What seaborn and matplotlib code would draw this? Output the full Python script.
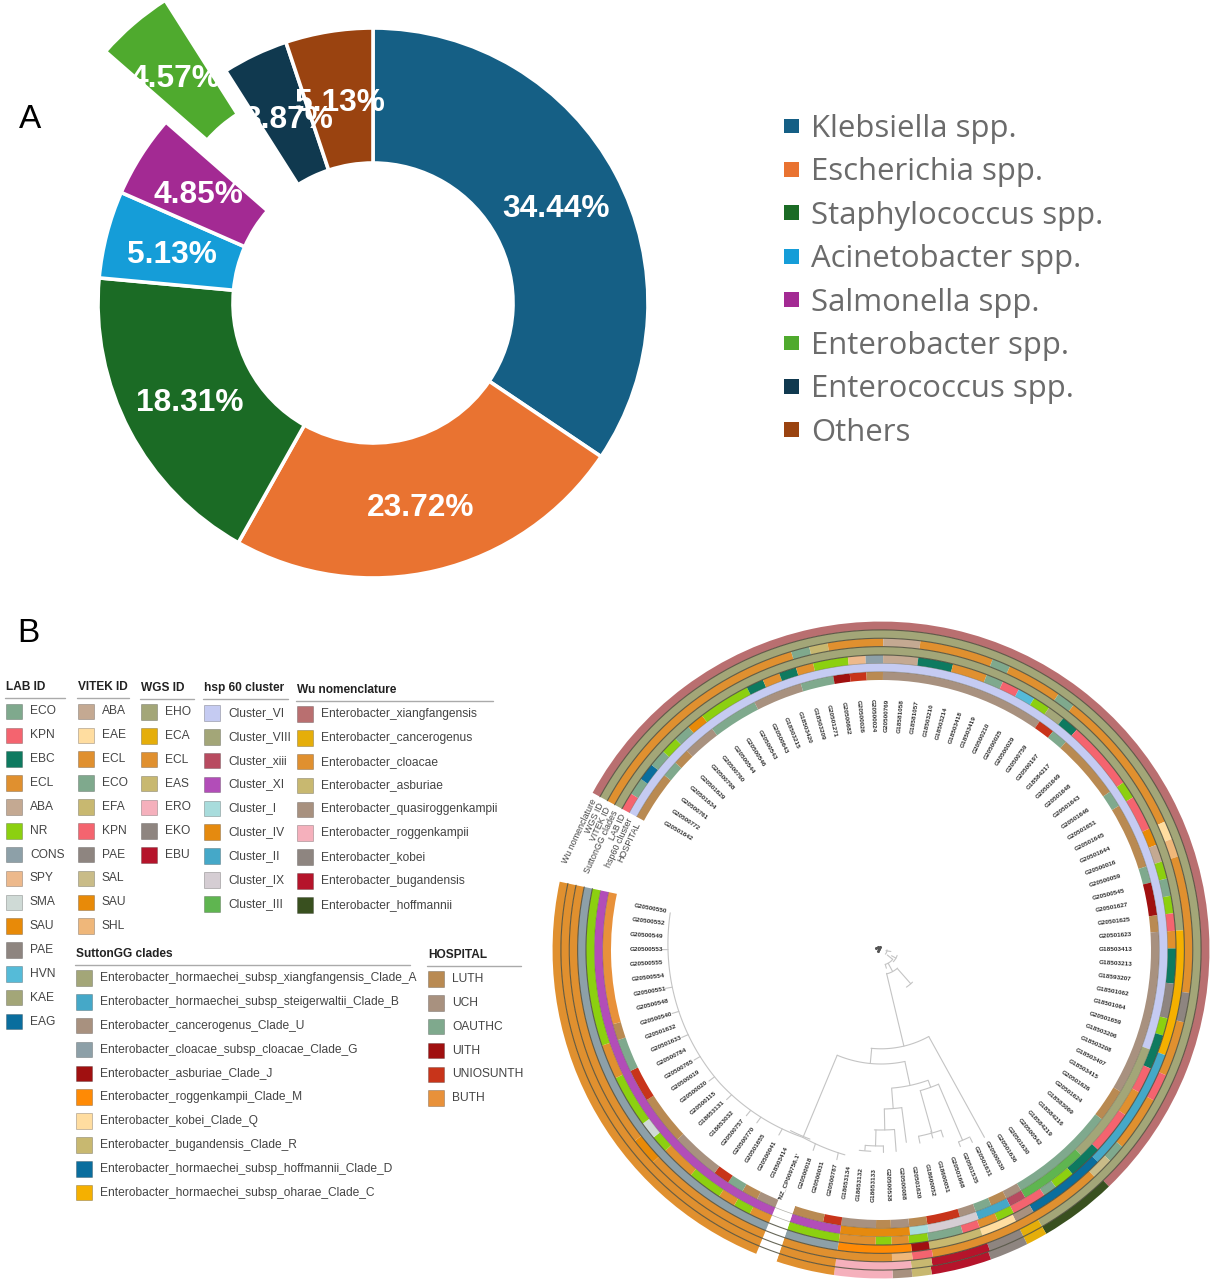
# -*- coding: utf-8 -*-
import numpy as np
import pandas as pd
import seaborn as sns
import matplotlib.pyplot as plt

W, H = 1213, 1280

# ---------------- panel A data
species = ['Klebsiella spp.', 'Escherichia spp.', 'Staphylococcus spp.', 'Acinetobacter spp.',
           'Salmonella spp.', 'Enterobacter spp.', 'Enterococcus spp.', 'Others']
share = [34.44, 23.72, 18.31, 5.13, 4.85, 4.57, 3.87, 5.13]
species_colors = ['#155F85', '#E97331', '#1B6B25', '#159DD8', '#A32A93', '#4FAA2E', '#10394F', '#9A4310']
share_xy = [(556, 209), (421, 508), (190, 403), (172, 255), (198, 195), (175, 79), (288, 120), (340, 103)]

# ---------------- panel B legends
lab_names = ['ECO', 'KPN', 'EBC', 'ECL', 'ABA', 'NR', 'CONS', 'SPY', 'SMA', 'SAU', 'PAE', 'HVN', 'KAE', 'EAG']
lab_colors = ['#7FA98D', '#F4646F', '#0E7A60', '#E0902F', '#C4A992', '#8CD010', '#8DA0A8', '#EDB98C',
              '#CFDAD6', '#E88A08', '#8E8580', '#55BBD8', '#A3A678', '#0A6E9E']
vitek_names = ['ABA', 'EAE', 'ECL', 'ECO', 'EFA', 'KPN', 'PAE', 'SAL', 'SAU', 'SHL']
vitek_colors = ['#C4A992', '#FFDDA0', '#E0902F', '#7FA98D', '#C8B870', '#F4646F', '#8E8580', '#C9BC88',
                '#E88A08', '#EFB77A']
wgs_names = ['EHO', 'ECA', 'ECL', 'EAS', 'ERO', 'EKO', 'EBU']
wgs_colors = ['#A3A678', '#E5AE0A', '#E0902F', '#C8B870', '#F5B0BC', '#8E8580', '#B5142B']
hsp_names = ['Cluster_VI', 'Cluster_VIII', 'Cluster_xiii', 'Cluster_XI', 'Cluster_I', 'Cluster_IV',
             'Cluster_II', 'Cluster_IX', 'Cluster_III']
hsp_colors = ['#C5CBF2', '#A3A678', '#B84B60', '#B24DB8', '#A8DCDC', '#E58A0F', '#45A8C8', '#D5CDD3', '#5FB550']
wu_names = ['Enterobacter_xiangfangensis', 'Enterobacter_cancerogenus', 'Enterobacter_cloacae',
            'Enterobacter_asburiae', 'Enterobacter_quasiroggenkampii', 'Enterobacter_roggenkampii',
            'Enterobacter_kobei', 'Enterobacter_bugandensis', 'Enterobacter_hoffmannii']
wu_colors = ['#B96F70', '#E5AE0A', '#E0902F', '#C8B870', '#A8917F', '#F5B0BC', '#8E8580', '#B5142B', '#39501F']
sutton_names = ['Enterobacter_hormaechei_subsp_xiangfangensis_Clade_A',
                'Enterobacter_hormaechei_subsp_steigerwaltii_Clade_B', 'Enterobacter_cancerogenus_Clade_U',
                'Enterobacter_cloacae_subsp_cloacae_Clade_G', 'Enterobacter_asburiae_Clade_J',
                'Enterobacter_roggenkampii_Clade_M', 'Enterobacter_kobei_Clade_Q',
                'Enterobacter_bugandensis_Clade_R', 'Enterobacter_hormaechei_subsp_hoffmannii_Clade_D',
                'Enterobacter_hormaechei_subsp_oharae_Clade_C']
sutton_colors = ['#A3A678', '#45A8C8', '#A8917F', '#8DA0A8', '#A01010', '#FF8A05', '#FFDDA0', '#C8B870',
                 '#0A6E9E', '#F5B000']
hospital_names = ['LUTH', 'UCH', 'OAUTHC', 'UITH', 'UNIOSUNTH', 'BUTH']
hospital_colors = ['#B98A52', '#A8917F', '#7FA98D', '#A01010', '#C8341A', '#E8913A']

# ---------------- rings: category per run, and where each run ends (leaf units, 100 = whole arc)
hospital_runs = ['LUTH', 'OAUTHC', 'LUTH', 'UCH', 'OAUTHC', 'UCH', 'OAUTHC', 'UITH', 'UNIOSUNTH', 'LUTH', 'UCH',
                 'UNIOSUNTH', 'OAUTHC', 'LUTH', 'OAUTHC', 'LUTH', 'OAUTHC', 'UITH', 'LUTH', 'UCH', 'LUTH', 'OAUTHC',
                 'UCH', 'LUTH', 'OAUTHC', 'UCH', 'UNIOSUNTH', 'LUTH', 'UCH', 'LUTH', 'UCH', 'UNIOSUNTH', 'LUTH', '',
                 'UCH', 'LUTH', 'OAUTHC', 'UNIOSUNTH', 'UCH', 'LUTH', 'UNIOSUNTH', 'OAUTHC', 'LUTH', 'BUTH']
hospital_ends = [3, 4, 5, 7, 10, 13, 15, 16, 17, 18, 28, 29, 30, 34, 35, 39, 40, 42, 43, 53, 55, 61.5, 62.5, 63.5,
                 64.5, 65.5, 67.5, 68.6, 69.7, 70.6, 72.7, 73.8, 75.7, 76.8, 78, 79, 80, 81, 84, 87, 89, 91, 92, 100]
hsp_runs = ['Cluster_VI', 'Cluster_VIII', 'Cluster_III', 'Cluster_xiii', 'Cluster_II', 'Cluster_IX', 'Cluster_I',
            'Cluster_IV', 'Cluster_XI', '', 'Cluster_XI']
hsp_ends = [50, 57.4, 61.5, 62.5, 64.5, 67.5, 68.6, 72.7, 75.7, 76.8, 100]
lab_runs = ['KPN', 'ECO', 'EAG', 'ECO', 'NR', 'ECO', 'SAU', 'NR', 'EBC', 'ECL', 'EBC', 'ECL', 'NR', 'SPY', 'CONS',
            'ABA', 'EBC', 'ECL', 'ECO', 'KPN', 'HVN', 'NR', 'KAE', 'EBC', 'KPN', 'NR', 'KPN', 'SAU', 'ABA', 'NR',
            'ECO', 'NR', 'KPN', 'ECL', 'EBC', 'PAE', 'NR', 'EBC', 'KPN', 'ECL', 'KPN', 'EBC', 'NR', 'ECO', 'KPN',
            'NR', 'ECL', 'KPN', 'ECO', 'NR', 'ECL', 'NR', 'ECL', 'NR', '', 'ECL', 'NR', 'ECL', 'NR', 'ECL', 'NR',
            'SMA', 'NR', 'ECL', 'NR']
lab_ends = [1, 2, 3, 4, 5, 6, 7, 10, 11, 12, 13, 14, 16, 17, 18, 20, 22, 24, 25, 26, 27, 28, 29, 30, 34, 35, 37,
            38, 39, 40, 41, 42, 43, 44, 46, 48, 49, 51, 52.5, 54, 56.5, 58.5, 59.7, 60.5, 62.5, 63.5, 64.6, 65.6,
            67.6, 68.7, 69.7, 70.6, 72.7, 75.7, 76.8, 78, 79, 80, 82, 84, 85, 86, 89, 91, 100]
sutton_runs = ['A', 'C', 'B', 'D', 'U', 'Q', 'R', 'J', 'M', 'G', '', 'G']
sutton_ends = [43, 50, 57, 61.5, 62.6, 64.6, 67.6, 68.6, 72.7, 75.7, 76.8, 100]
vitek_runs = ['ECL', 'ECO', 'EFA', 'ECL', 'ABA', 'ECL', 'ECO', 'ECL', 'ECO', 'ECL', 'EAE', 'SHL', 'ECL', 'PAE',
              'ECL', 'KPN', 'ECL', 'ECO', 'SAL', 'ECL', 'KPN', 'SHL', 'ECL', '', 'ECL', 'SAU', 'ECL']
vitek_ends = [13, 14, 15, 18, 20, 24, 25, 28, 29, 37, 38, 39, 46.4, 48, 51, 52.5, 55.5, 56.5, 57.7, 67.5, 68.6,
              69.7, 75.7, 76.8, 84, 85.5, 100]
wgs_runs = ['EHO', 'ECA', 'EKO', 'EBU', 'EAS', 'ERO', 'ECL', '', 'ECL']
wgs_ends = [61.5, 62.6, 64.5, 67.6, 68.7, 72.7, 75.7, 76.8, 100]
wu_runs = ['Enterobacter_xiangfangensis', 'Enterobacter_hoffmannii', 'Enterobacter_cancerogenus', 'Enterobacter_kobei',
           'Enterobacter_bugandensis', 'Enterobacter_asburiae', 'Enterobacter_quasiroggenkampii',
           'Enterobacter_roggenkampii', 'Enterobacter_cloacae', '', 'Enterobacter_cloacae']
wu_ends = [57.5, 61.5, 62.6, 64.6, 67.7, 68.7, 69.7, 72.7, 75.7, 76.8, 100]

leaf_names = ['G20501642', 'G20500772', 'G20500761', 'G20501634', 'G20501629', 'G20500798', 'G20500760', 'G20500544',
              'G20500546', 'G20500543', 'G20500643', 'G18503215', 'G18503420', 'G18503209', 'G20501271', 'G20500682',
              'G20500026', 'G20500024', 'G20500769', 'G18581058', 'G18581057', 'G18503210', 'G18503214', 'G18503418',
              'G18503419', 'G20500210', 'G20500025', 'G20500029', 'G20500759', 'G20500197', 'G18584217', 'G20501649',
              'G20501648', 'G20501643', 'G20501646', 'G20501651', 'G20501645', 'G20501644', 'G20500016', 'G20500059',
              'G20500545', 'G20501627', 'G20501625', 'G20501623', 'G18503413', 'G18503213', 'G18593207', 'G18501062',
              'G18501064', 'G20501659', 'G18503206', 'G18503208', 'G18503407', 'G18503415', 'G20501626', 'G20501624',
              'G18583069', 'G18584216', 'G18584219', 'G20500542', 'G20501630', 'G20501636', 'G20500030', 'G20501631',
              'G20501535', 'G20501668', 'G18600051', 'G18600052', 'G20501620', 'G20500088', 'G20500538', 'G18653133',
              'G18653132', 'G18653134', 'G20500787', 'G20500031', 'G20500018', "'NZ_CP009756.1'", 'G18503414',
              'G20500041', 'G20501655', 'G20500770', 'G20500757', 'G18653032', 'G18653131', 'G20500115', 'G20500020',
              'G20500019', 'G20500765', 'G20500784', 'G20501633', 'G20501632', 'G20500540', 'G20500548', 'G20500551',
              'G20500554', 'G20500555', 'G20500553', 'G20500549', 'G20500552', 'G20500550']

# tree: radial edges (angle, r from, r to) and arcs (r, angle from, angle to); angle in degrees from ring start
tree_radial = [(228, 24, 98.8), (212.5, 98.8, 214), (246.8, 98.8, 114), (264, 114, 203), (229.3, 114, 138),
               (221.5, 139, 146), (225.8, 146, 189), (218.2, 146, 207), (237, 139, 159), (233.9, 159, 194),
               (240.2, 159, 180), (237.1, 180, 202), (243, 180, 196), (240.7, 196, 202.5), (246, 196, 201),
               (230, 190, 197), (223, 190, 197), (226, 188, 195), (219.4, 207, 212), (216, 208, 213),
               (200, 25, 45), (213, 15, 24), (190, 8, 15), (225, 15, 19), (180, 12, 17), (160, 5, 10)]
tree_arcs = [(98.8, 212.5, 247.2), (114, 229.3, 264), (138.5, 221.5, 237), (146, 218.2, 225.8), (159, 233.9, 240.2),
             (180, 237.1, 243.5), (196, 240.7, 246), (201.5, 244.3, 247.6), (190, 223, 230), (207, 216, 219.4),
             (24.5, 199, 228), (45, 197, 207), (15, 190, 225), (6, 150, 195), (17, 170, 195), (202, 262, 268)]
tree_base_angle = [251.4, 264, 291.8, 321.4, 341.4]
tree_base_r = [208, 203, 209, 212, 214]
tree_stub_leaves = [74, 76, 79, 81, 82, 84, 86, 88, 90, 92, 94, 97]

# ---------------- layout
sns.set_theme(style='white')
plt.rcParams['font.family'] = ['Liberation Sans', 'DejaVu Sans']

fig = plt.figure(figsize=(W / 100, H / 100), dpi=100, facecolor='white')


def px_axes(cx, cy, half, **kw):
    return fig.add_axes([(cx - half) / W, (H - cy - half) / H, 2 * half / W, 2 * half / H], **kw)


# ---------------- donut
pie_r = 275
ax_pie = px_axes(373, 303, pie_r * 1.45)
pal = sns.color_palette(species_colors)
explode = [0, 0, 0, 0, 0, 0.338, 0, 0]
ax_pie.pie(share, radius=1, startangle=90, counterclock=False, colors=pal, explode=explode,
           normalize=True, wedgeprops=dict(width=1 - 140 / pie_r, edgecolor='white', linewidth=2.6))
ax_pie.set_xlim(-1.45, 1.45)
ax_pie.set_ylim(-1.45, 1.45)
ax_pie.set_aspect('equal')
ax_pie.set_facecolor('none')
ax_pie.axis('off')

# ---------------- circular tree
C_X, C_Y, R_MAX = 881, 950, 330
START = 151.4
ARC = 343.4
ax_tree = px_axes(C_X, C_Y, R_MAX, projection='polar')
ax_tree.set_facecolor('none')
ax_tree.set_theta_offset(np.radians(START))
ax_tree.set_theta_direction(-1)
ax_tree.set_ylim(0, R_MAX)

rings = [(hospital_runs, hospital_ends, dict(zip(hospital_names, hospital_colors))),
         (hsp_runs, hsp_ends, dict(zip(hsp_names, hsp_colors))),
         (lab_runs, lab_ends, dict(zip(lab_names, lab_colors))),
         (sutton_runs, sutton_ends, dict(zip('ABUGJMQRDC', sutton_colors))),
         (vitek_runs, vitek_ends, dict(zip(vitek_names, vitek_colors))),
         (wgs_runs, wgs_ends, dict(zip(wgs_names, wgs_colors))),
         (wu_runs, wu_ends, dict(zip(wu_names, wu_colors)))]
ring_names = ['HOSPITAL', 'hsp60 cluster', 'LAB ID', 'SuttonGG clades', 'VITEK ID', 'WGS ID', 'Wu nomenclature']
r_in, r_step = 270, 8.35
unit = np.radians(ARC / 100)

for i, (runs, ends, cmap) in enumerate(rings):
    ends = np.array(ends, dtype=float)
    starts = np.r_[0, ends[:-1]]
    cols = [cmap.get(c, 'white') for c in runs]
    ax_tree.bar((starts + ends) / 2 * unit, r_step, width=(ends - starts) * unit, bottom=r_in + i * r_step,
                color=cols, linewidth=0)
    ax_tree.text(np.radians(-0.9), r_in + (i + 0.5) * r_step, ring_names[i], rotation=65, ha='right',
                 va='center', rotation_mode='anchor', fontsize=6.4, color='#444444')

arc_t = np.radians(np.linspace(0, ARC, 400))
for i in range(1, 7):
    dark = i >= 3
    ax_tree.plot(arc_t, np.full(400, r_in + i * r_step), color='#4d4d3c', lw=0.8 if dark else 0.5,
                 alpha=0.85 if dark else 0.45)

# leaf labels
for i, name in enumerate(leaf_names):
    deg = (i + 0.5) * ARC / len(leaf_names)
    math_angle = START - deg
    right = np.cos(np.radians(math_angle)) > 0
    ax_tree.text(np.radians(deg), 218, name, fontsize=4.6, color='#333333', fontweight='bold',
                 rotation=math_angle if right else math_angle + 180, rotation_mode='anchor',
                 ha='left' if right else 'right', va='center')

# tree edges go through one long frame, one unit per edge
edges = []
for k, (a, r0, r1) in enumerate(tree_radial):
    edges.append(pd.DataFrame({'edge': f'r{k}', 'theta': np.radians([a, a]), 'r': [r0, r1]}))
for k, (r, a0, a1) in enumerate(tree_arcs):
    t = np.radians(np.linspace(a0, a1, 30))
    edges.append(pd.DataFrame({'edge': f'a{k}', 'theta': t, 'r': np.full(30, r)}))
base_a = np.linspace(tree_base_angle[0], tree_base_angle[-1], 120)
base_r = np.interp(base_a, tree_base_angle, tree_base_r)
edges.append(pd.DataFrame({'edge': 'base', 'theta': np.radians(base_a), 'r': base_r}))
for leaf in tree_stub_leaves:
    a = (leaf + 0.5) * ARC / len(leaf_names)
    r0 = np.interp(a, tree_base_angle, tree_base_r)
    edges.append(pd.DataFrame({'edge': f's{leaf}', 'theta': np.radians([a, a]), 'r': [r0, r0 + 7]}))
sns.lineplot(data=pd.concat(edges), x='theta', y='r', units='edge', estimator=None, sort=False,
             color='#c4c4c4', lw=0.8, ax=ax_tree)
ax_tree.scatter(np.radians([0, 20, 50, 350, 320]), [2, 4, 3, 5, 3], s=5, color='#555555', linewidth=0)

ax_tree.set_ylim(0, R_MAX)
ax_tree.set_xlabel('')
ax_tree.set_ylabel('')
ax_tree.grid(False)
ax_tree.set_xticks([])
ax_tree.set_yticks([])
ax_tree.spines['polar'].set_visible(False)

# ---------------- overlay in image pixels: texts and legends
ax = fig.add_axes([0, 0, 1, 1], facecolor='none')

for v, (x, y) in zip(share, share_xy):
    ax.text(x, y, f'{v:.2f}%', color='white', fontsize=22.8, fontweight='bold', ha='center', va='center')

ax.text(30, 119, 'A', fontsize=24, color='black', ha='center', va='center')
ax.text(28, 633, 'B', fontsize=24, color='black', ha='center', va='center')

legend_y = [126 + k * 43.4 for k in range(len(species))]
sns.scatterplot(x=[791.5] * len(species), y=legend_y, hue=species, palette=species_colors, marker='s', s=112,
                linewidth=0, legend=False, ax=ax)
for name, y in zip(species, legend_y):
    ax.text(811, y + 3, name, fontsize=22.4, color='#6b6b6b', va='center', family='Open Sans')

panels = [('LAB ID', lab_names, lab_colors, 6, 687, 65, 711.5),
          ('VITEK ID', vitek_names, vitek_colors, 78, 687, 129, 711.5),
          ('WGS ID', wgs_names, wgs_colors, 141, 688, 194, 712),
          ('hsp 60 cluster', hsp_names, hsp_colors, 204, 688, 288, 713),
          ('Wu nomenclature', wu_names, wu_colors, 297, 690, 493, 714),
          ('SuttonGG clades', sutton_names, sutton_colors, 76, 954, 410, 978),
          ('HOSPITAL', hospital_names, hospital_colors, 428, 955, 521, 979)]
ROW = 23.85
for title, names, colors, x0, y_head, x_end, y_first in panels:
    ax.text(x0, y_head, title, fontsize=8.6, fontweight='bold', color='#222222', va='center')
    ax.plot([x0 - 1, x_end], [y_head + 11, y_head + 11], color='#aaaaaa', lw=1)
    df = pd.DataFrame({'name': names, 'row': np.arange(len(names))})
    df['x'] = x0 + 8
    df['y'] = y_first + df['row'] * ROW
    sns.scatterplot(data=df, x='x', y='y', hue='name', palette=dict(zip(names, colors)), marker='s', s=125,
                    linewidth=0.7, edgecolor=(0, 0, 0, 0.22), legend=False, ax=ax)
    for name, y in zip(names, df['y']):
        ax.text(x0 + 24, y, name, fontsize=8.65, color='#444444', va='center')

ax.set_xlim(0, W)
ax.set_ylim(H, 0)
ax.axis('off')

fig.savefig('out.png', dpi=100)
